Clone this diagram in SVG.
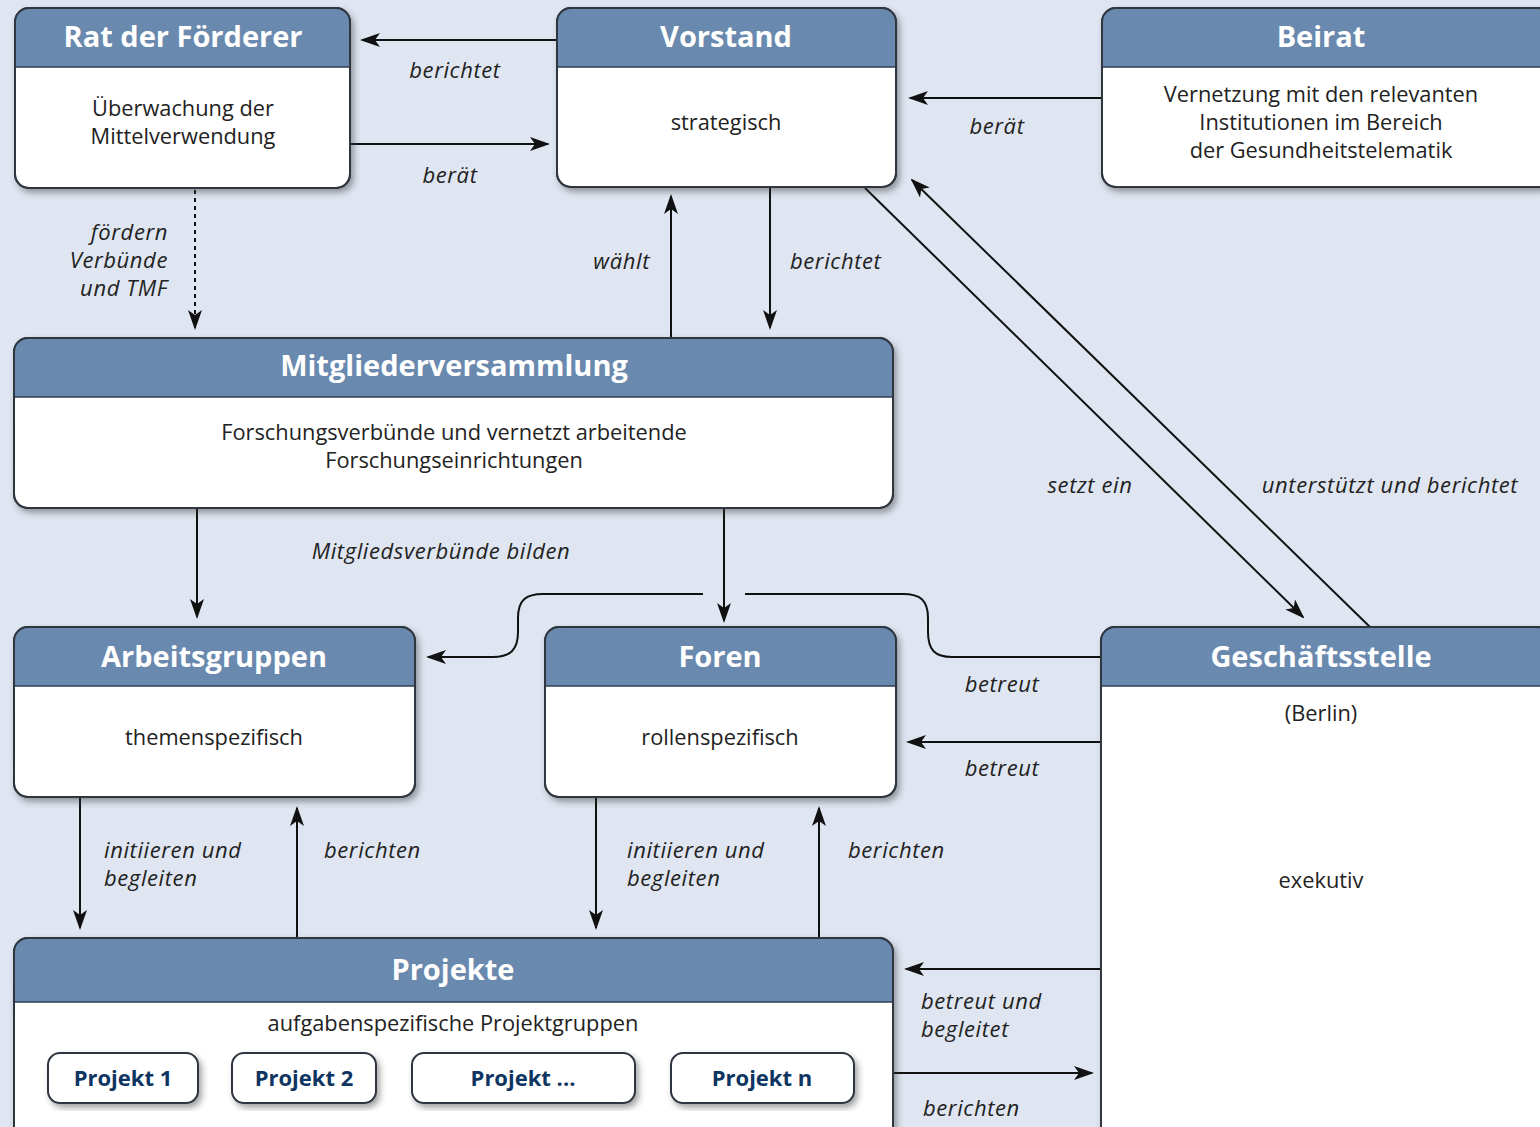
<svg xmlns="http://www.w3.org/2000/svg" width="1540" height="1127" viewBox="0 0 1540 1127">
<defs>
<style>
.box{fill:#fff;stroke:#2f3640;stroke-width:2}
.hd{fill:#6a89ae}
.hl{stroke:#2f3e55;stroke-width:1.5}
.t{font-family:"Open Sans","Liberation Sans",sans-serif;font-weight:bold;font-size:29px;fill:#fff;text-anchor:middle}
.b{font-family:"Open Sans","Liberation Sans",sans-serif;font-size:21.8px;fill:#222;text-anchor:middle}
.l{font-family:"Open Sans","Liberation Sans",sans-serif;font-style:italic;font-size:22px;letter-spacing:0.6px;fill:#222}
.p{font-family:"Open Sans","Liberation Sans",sans-serif;font-weight:bold;font-size:22px;fill:#0e3461;text-anchor:middle}
.c{fill:none;stroke:#111;stroke-width:2}
</style>
<marker id="a" viewBox="0 0 20 14" refX="18" refY="7" markerWidth="20" markerHeight="14" markerUnits="userSpaceOnUse" orient="auto">
<path d="M0,0 L20,7 L0,14 L5,7 Z" fill="#111"/>
</marker>
<filter id="s" x="-5%" y="-5%" width="115%" height="120%">
<feDropShadow dx="3" dy="4" stdDeviation="3" flood-color="#333" flood-opacity="0.45"/>
</filter>
<clipPath id="cr"><rect x="15" y="8" width="335" height="180" rx="14"/></clipPath>
<clipPath id="cv"><rect x="557" y="8" width="339" height="179" rx="14"/></clipPath>
<clipPath id="cb"><rect x="1102" y="8" width="450" height="179" rx="14"/></clipPath>
<clipPath id="cm"><rect x="14" y="338" width="879" height="170" rx="14"/></clipPath>
<clipPath id="ca"><rect x="14" y="627" width="401" height="170" rx="14"/></clipPath>
<clipPath id="cf"><rect x="545" y="627" width="351" height="170" rx="14"/></clipPath>
<clipPath id="cg"><rect x="1101" y="627" width="450" height="520" rx="14"/></clipPath>
<clipPath id="cp"><rect x="14" y="938" width="879" height="205" rx="14"/></clipPath>
</defs>
<rect width="1540" height="1127" fill="#dfe6f1"/>

<g id="connectors">
<path class="c" d="M557,40 H362" marker-end="url(#a)"/>
<path class="c" d="M350,144 H548" marker-end="url(#a)"/>
<path class="c" d="M1102,98 H910" marker-end="url(#a)"/>
<path class="c" d="M195,190 V328" stroke-dasharray="4,4" marker-end="url(#a)"/>
<path class="c" d="M671,338 V196" marker-end="url(#a)"/>
<path class="c" d="M770,188 V328" marker-end="url(#a)"/>
<path class="c" d="M865,188 L1303,617" marker-end="url(#a)"/>
<path class="c" d="M1370,627 L912,180" marker-end="url(#a)"/>
<path class="c" d="M197,508 V617" marker-end="url(#a)"/>
<path class="c" d="M724,508 V621" marker-end="url(#a)"/>
<path class="c" d="M1101,657 H952 C935,657 928,650 928,632 V618 C928,600 920,594 903,594 H745"/>
<path class="c" d="M703,594 H543 C526,594 518,600 518,618 V632 C518,650 510,657 493,657 H428" marker-end="url(#a)"/>
<path class="c" d="M1101,742 H908" marker-end="url(#a)"/>
<path class="c" d="M80,797 V928" marker-end="url(#a)"/>
<path class="c" d="M297,938 V808" marker-end="url(#a)"/>
<path class="c" d="M596,797 V928" marker-end="url(#a)"/>
<path class="c" d="M819,938 V808" marker-end="url(#a)"/>
<path class="c" d="M1101,969 H906" marker-end="url(#a)"/>
<path class="c" d="M893,1073 H1092" marker-end="url(#a)"/>
<text class="l" x="455" y="78" text-anchor="middle">berichtet</text>
<text class="l" x="450" y="183" text-anchor="middle">berät</text>
<text class="l" x="997" y="134" text-anchor="middle">berät</text>
<text class="l" x="168" y="240" text-anchor="end">fördern</text>
<text class="l" x="168" y="268" text-anchor="end">Verbünde</text>
<text class="l" x="168" y="296" text-anchor="end">und TMF</text>
<text class="l" x="650" y="269" text-anchor="end">wählt</text>
<text class="l" x="790" y="269">berichtet</text>
<text class="l" x="1090" y="493" text-anchor="middle">setzt ein</text>
<text class="l" x="1390" y="493" text-anchor="middle">unterstützt und berichtet</text>
<text class="l" x="441" y="559" text-anchor="middle">Mitgliedsverbünde bilden</text>
<text class="l" x="1002" y="692" text-anchor="middle">betreut</text>
<text class="l" x="1002" y="776" text-anchor="middle">betreut</text>
<text class="l" x="104" y="858">initiieren und</text>
<text class="l" x="104" y="886">begleiten</text>
<text class="l" x="324" y="858">berichten</text>
<text class="l" x="627" y="858">initiieren und</text>
<text class="l" x="627" y="886">begleiten</text>
<text class="l" x="848" y="858">berichten</text>
<text class="l" x="921" y="1009">betreut und</text>
<text class="l" x="921" y="1037">begleitet</text>
<text class="l" x="923" y="1116">berichten</text>
</g>

<g id="rat">
<rect class="box" x="15" y="8" width="335" height="180" rx="14" filter="url(#s)"/>
<rect class="hd" x="15" y="8" width="335" height="59" clip-path="url(#cr)"/>
<line class="hl" x1="15" y1="67" x2="350" y2="67"/>
<rect x="15" y="8" width="335" height="180" rx="14" fill="none" stroke="#2f3640" stroke-width="2"/>
<text class="t" x="183" y="47">Rat der Förderer</text>
<text class="b" x="183" y="116">Überwachung der</text>
<text class="b" x="183" y="144">Mittelverwendung</text>
</g>

<g id="vorstand">
<rect class="box" x="557" y="8" width="339" height="179" rx="14" filter="url(#s)"/>
<rect class="hd" x="557" y="8" width="339" height="59" clip-path="url(#cv)"/>
<line class="hl" x1="557" y1="67" x2="896" y2="67"/>
<rect x="557" y="8" width="339" height="179" rx="14" fill="none" stroke="#2f3640" stroke-width="2"/>
<text class="t" x="726" y="47">Vorstand</text>
<text class="b" x="726" y="130">strategisch</text>
</g>

<g id="beirat">
<rect class="box" x="1102" y="8" width="450" height="179" rx="14" filter="url(#s)"/>
<rect class="hd" x="1102" y="8" width="450" height="59" clip-path="url(#cb)"/>
<line class="hl" x1="1102" y1="67" x2="1540" y2="67"/>
<rect x="1102" y="8" width="450" height="179" rx="14" fill="none" stroke="#2f3640" stroke-width="2"/>
<text class="t" x="1321" y="47">Beirat</text>
<text class="b" x="1321" y="102">Vernetzung mit den relevanten</text>
<text class="b" x="1321" y="130">Institutionen im Bereich</text>
<text class="b" x="1321" y="158">der Gesundheitstelematik</text>
</g>

<g id="mitglieder">
<rect class="box" x="14" y="338" width="879" height="170" rx="14" filter="url(#s)"/>
<rect class="hd" x="14" y="338" width="879" height="59" clip-path="url(#cm)"/>
<line class="hl" x1="14" y1="397" x2="893" y2="397"/>
<rect x="14" y="338" width="879" height="170" rx="14" fill="none" stroke="#2f3640" stroke-width="2"/>
<text class="t" x="454" y="376">Mitgliederversammlung</text>
<text class="b" x="454" y="440">Forschungsverbünde und vernetzt arbeitende</text>
<text class="b" x="454" y="468">Forschungseinrichtungen</text>
</g>

<g id="arbeitsgruppen">
<rect class="box" x="14" y="627" width="401" height="170" rx="14" filter="url(#s)"/>
<rect class="hd" x="14" y="627" width="401" height="59" clip-path="url(#ca)"/>
<line class="hl" x1="14" y1="686" x2="415" y2="686"/>
<rect x="14" y="627" width="401" height="170" rx="14" fill="none" stroke="#2f3640" stroke-width="2"/>
<text class="t" x="214" y="667">Arbeitsgruppen</text>
<text class="b" x="214" y="745">themenspezifisch</text>
</g>

<g id="foren">
<rect class="box" x="545" y="627" width="351" height="170" rx="14" filter="url(#s)"/>
<rect class="hd" x="545" y="627" width="351" height="59" clip-path="url(#cf)"/>
<line class="hl" x1="545" y1="686" x2="896" y2="686"/>
<rect x="545" y="627" width="351" height="170" rx="14" fill="none" stroke="#2f3640" stroke-width="2"/>
<text class="t" x="720" y="667">Foren</text>
<text class="b" x="720" y="745">rollenspezifisch</text>
</g>

<g id="geschaeftsstelle">
<rect class="box" x="1101" y="627" width="450" height="520" rx="14" filter="url(#s)"/>
<rect class="hd" x="1101" y="627" width="450" height="59" clip-path="url(#cg)"/>
<line class="hl" x1="1101" y1="686" x2="1540" y2="686"/>
<rect x="1101" y="627" width="450" height="520" rx="14" fill="none" stroke="#2f3640" stroke-width="2"/>
<text class="t" x="1321" y="667">Geschäftsstelle</text>
<text class="b" x="1321" y="721">(Berlin)</text>
<text class="b" x="1321" y="888">exekutiv</text>
</g>

<g id="projekte">
<rect class="box" x="14" y="938" width="879" height="205" rx="14" filter="url(#s)"/>
<rect class="hd" x="14" y="938" width="879" height="64" clip-path="url(#cp)"/>
<line class="hl" x1="14" y1="1002" x2="893" y2="1002"/>
<rect x="14" y="938" width="879" height="205" rx="14" fill="none" stroke="#2f3640" stroke-width="2"/>
<text class="t" x="453" y="980">Projekte</text>
<text class="b" x="453" y="1031">aufgabenspezifische Projektgruppen</text>
</g>

<g id="projekt1">
<rect class="box" x="48" y="1053" width="150" height="50" rx="12" filter="url(#s)"/>
<text class="p" x="123" y="1086">Projekt 1</text>
</g>
<g id="projekt2">
<rect class="box" x="232" y="1053" width="144" height="50" rx="12" filter="url(#s)"/>
<text class="p" x="304" y="1086">Projekt 2</text>
</g>
<g id="projekt3">
<rect class="box" x="412" y="1053" width="223" height="50" rx="12" filter="url(#s)"/>
<text class="p" x="523" y="1086">Projekt ...</text>
</g>
<g id="projektn">
<rect class="box" x="671" y="1053" width="183" height="50" rx="12" filter="url(#s)"/>
<text class="p" x="762" y="1086">Projekt n</text>
</g>
</svg>
